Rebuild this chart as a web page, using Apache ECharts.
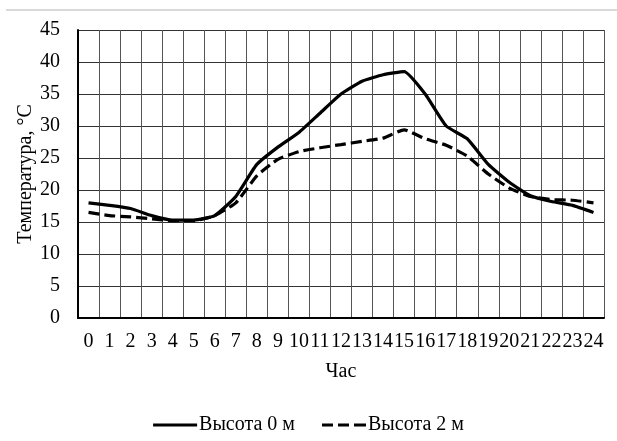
<!DOCTYPE html>
<html>
<head>
<meta charset="utf-8">
<script src="https://cdn.jsdelivr.net/npm/echarts@6/dist/echarts.min.js"></script>
<style>
  html, body { margin: 0; padding: 0; background: #fff; }
  #chart { width: 617px; height: 441px; }
</style>
</head>
<body>
<div id="chart"></div>
<script>
// Hours of the day
const hours = ['0','1','2','3','4','5','6','7','8','9','10','11','12','13','14','15','16','17','18','19','20','21','22','23','24'];
// Air temperature at ground level, °C
const height0 = [18, 17.6, 17.1, 16, 15.3, 15.3, 16, 19, 24, 26.7, 29, 32, 35, 37, 38, 38.5, 35, 30, 28, 24, 21.2, 19.1, 18.2, 17.6, 16.5];
// Air temperature at 2 m, °C
const height2 = [16.5, 16, 15.8, 15.5, 15.2, 15.2, 16, 18, 22.2, 24.8, 26, 26.6, 27.1, 27.6, 28.1, 29.4, 28, 27, 25.3, 22.5, 20.3, 19, 18.5, 18.4, 18];
const yTicks = { min: 0, max: 45, step: 5 };

const serif = '"Liberation Serif", "Times New Roman", serif';
const chart = echarts.init(document.getElementById('chart'), null, { renderer: 'canvas' });

// legend glyphs: a plain bar and three dashes
const solidIcon = 'path://M0,0H44V3H0Z';
const dashedIcon = 'path://M0,0H11V3H0Z M16,0H27V3H16Z M32,0H44V3H32Z';

chart.setOption({
  animation: false,
  backgroundColor: '#fff',
  textStyle: { fontFamily: serif, color: '#000' },
  graphic: [{
    type: 'rect',
    shape: { x: 6, y: 9, width: 611, height: 2 },
    style: { fill: '#d9d9d9' },
    silent: true
  }],
  grid: { left: 78, right: 13, top: 30, bottom: 123 },
  legend: {
    top: 410,
    left: 'center',
    itemWidth: 44,
    itemHeight: 3,
    itemGap: 27,
    symbolKeepAspect: false,
    textStyle: { fontFamily: serif, fontSize: 20, color: '#000', padding: [0, 0, 0, -3] },
    data: [
      { name: 'Высота 0 м', icon: solidIcon, itemStyle: { color: '#000' } },
      { name: 'Высота 2 м', icon: dashedIcon, itemStyle: { color: '#000' } }
    ]
  },
  xAxis: {
    type: 'category',
    data: hours,
    boundaryGap: true,
    name: 'Час',
    nameLocation: 'middle',
    nameGap: 44,
    nameTextStyle: { fontFamily: serif, fontSize: 20, color: '#000' },
    axisLine: { lineStyle: { color: '#000', width: 2 } },
    axisTick: { show: false },
    axisLabel: { fontFamily: serif, fontSize: 20, color: '#000', margin: 14, interval: 0 },
    splitLine: { show: true, interval: 0, lineStyle: { color: '#555', width: 1 } }
  },
  yAxis: {
    type: 'value',
    min: yTicks.min,
    max: yTicks.max,
    interval: yTicks.step,
    name: 'Температура, °C',
    nameLocation: 'middle',
    nameGap: 42,
    nameMoveOverlap: false,
    nameRotate: 90,
    nameTextStyle: { fontFamily: serif, fontSize: 20, color: '#000' },
    axisLine: { show: true, lineStyle: { color: '#000', width: 2 } },
    axisTick: { show: false },
    axisLabel: { fontFamily: serif, fontSize: 20, color: '#000', margin: 18 },
    splitLine: { show: true, lineStyle: { color: '#333', width: 1 } }
  },
  series: [
    {
      name: 'Высота 0 м',
      type: 'line',
      data: height0,
      smooth: 0.15,
      symbol: 'none',
      lineStyle: { color: '#000', width: 3.2, type: 'solid' },
      itemStyle: { color: '#000' }
    },
    {
      name: 'Высота 2 м',
      type: 'line',
      data: height2,
      smooth: 0.15,
      symbol: 'none',
      lineStyle: { color: '#000', width: 3.2, type: [11, 5] },
      itemStyle: { color: '#000' }
    }
  ]
});
</script>
</body>
</html>
